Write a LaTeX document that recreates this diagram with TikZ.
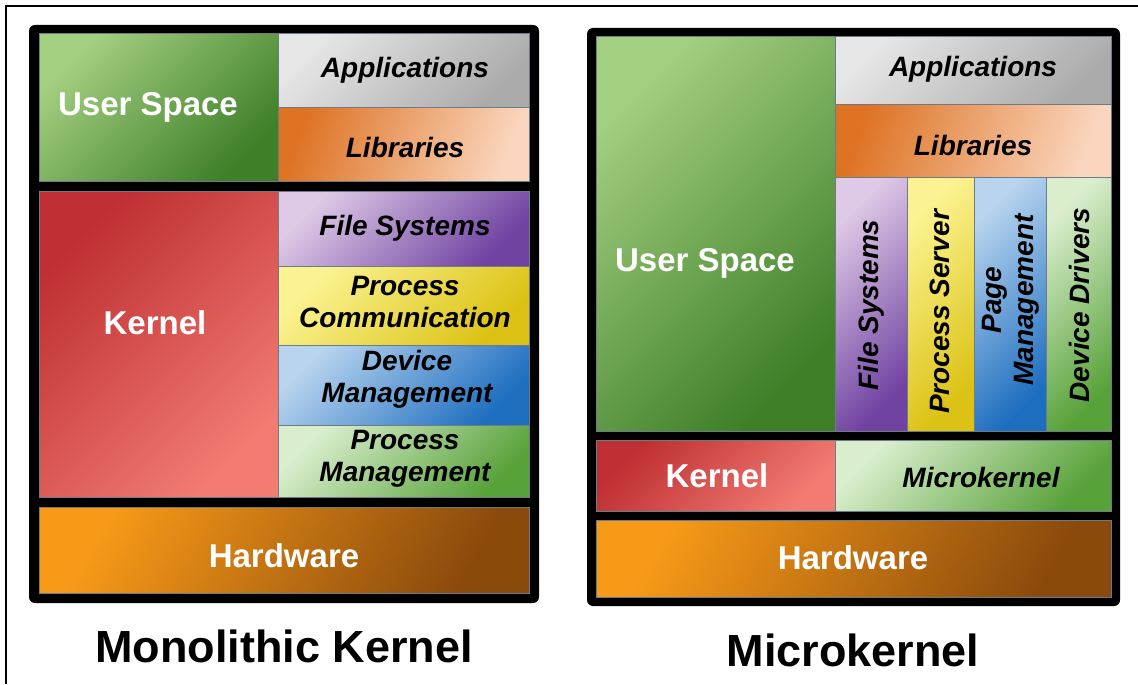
\documentclass[tikz,border=0pt]{standalone}
\usepackage{fontspec}
\setmainfont{Liberation Sans}
\definecolor{sepc}{HTML}{6E7A86}
\definecolor{usA}{HTML}{A3CF80}\definecolor{usB}{HTML}{3E7F28}
\definecolor{apA}{HTML}{E6E6E6}\definecolor{apB}{HTML}{ABABAB}
\definecolor{liA}{HTML}{DE7324}\definecolor{liB}{HTML}{FAD6BE}
\definecolor{keA}{HTML}{BE2E32}\definecolor{keB}{HTML}{F27C72}
\definecolor{fsA}{HTML}{DECAE6}\definecolor{fsB}{HTML}{7042A2}
\definecolor{pcA}{HTML}{FBF392}\definecolor{pcB}{HTML}{DCC214}
\definecolor{dmA}{HTML}{B8D4EE}\definecolor{dmB}{HTML}{1E6EC0}
\definecolor{pmA}{HTML}{DAEECE}\definecolor{pmB}{HTML}{58A23A}
\definecolor{hwA}{HTML}{F89A18}\definecolor{hwB}{HTML}{8A4A0C}
\begin{document}
\begin{tikzpicture}[x=0.5pt,y=-0.5pt,
  cellb/.style={draw=sepc, line width=0.5pt},
  grad/.style n args={3}{cellb, top color=#1, bottom color=#2, shading angle=#3},
  wlab/.style={text=white, font=\fontsize{16.5}{19}\selectfont\bfseries, align=center, inner sep=0pt},
  blab/.style={text=black, font=\fontsize{14}{16}\selectfont\bfseries\itshape, align=center, inner sep=0pt},
  ttl/.style={text=black, font=\fontsize{22.5}{26}\selectfont\bfseries, inner sep=0pt},
  framebox/.style={fill=black, rounded corners=3pt}]
\useasboundingbox (0,0) rectangle (1138,684);
\fill[white] (0,0) rectangle (1138,684);
% outer frame (cropped)
\draw[line width=1pt] (6,684) -- (6,6) -- (1138,6);

%% ---------- Monolithic kernel ----------
\path[framebox] (29,25) rectangle (539,603);
\path[grad={usA}{usB}{45}] (39,34) rectangle (278,182);
\path[grad={apA}{apB}{45}] (278,34) rectangle (529,108);
\path[grad={liA}{liB}{70}] (278,108) rectangle (529,182);
\path[grad={keA}{keB}{45}] (39,192) rectangle (278,497);
\path[grad={fsA}{fsB}{45}] (278,192) rectangle (529,266);
\path[grad={pcA}{pcB}{45}] (278,266) rectangle (529,345);
\path[grad={dmA}{dmB}{45}] (278,345) rectangle (529,425);
\path[grad={pmA}{pmB}{45}] (278,425) rectangle (529,497);
\path[grad={hwA}{hwB}{60}] (39,507) rectangle (529,593);

\node[wlab] (mus) at (148,107) {User Space};
\node[blab] (mapp) at (405,70) {Applications};
\node[blab] (mlib) at (405,147) {Libraries};
\node[wlab] (mker) at (155,323) {Kernel};
\node[blab] (mfs) at (405,228) {File Systems};
\node[blab] (mpc) at (405,302) {Process\\Communication};
\node[blab] (mdm) at (407,379) {Device\\Management};
\node[blab] (mpm) at (405,459) {Process\\Management};
\node[wlab] (mhw) at (284,556) {Hardware};
\node[ttl] (mtitle) at (284,646) {Monolithic Kernel};

%% ---------- Microkernel ----------
\path[framebox] (587,28) rectangle (1120,606);
\path[grad={usA}{usB}{45}] (596,37) rectangle (835,431);
\path[grad={apA}{apB}{45}] (835,37) rectangle (1111,105);
\path[grad={liA}{liB}{70}] (835,105) rectangle (1111,178);
\path[grad={fsA}{fsB}{45}] (835,178) rectangle (907,431);
\path[grad={pcA}{pcB}{45}] (907,178) rectangle (974,431);
\path[grad={dmA}{dmB}{45}] (974,178) rectangle (1046,431);
\path[grad={pmA}{pmB}{45}] (1046,178) rectangle (1111,431);
\path[grad={keA}{keB}{45}] (596,440) rectangle (835,511);
\path[grad={pmA}{pmB}{45}] (835,440) rectangle (1111,511);
\path[grad={hwA}{hwB}{60}] (596,520) rectangle (1111,597);

\node[wlab] (kus) at (705,263) {User Space};
\node[blab] (kapp) at (973,69) {Applications};
\node[blab] (klib) at (973,145) {Libraries};
\node[blab, rotate=90] (kfs) at (871,305) {File Systems};
\node[blab, rotate=90] (kps) at (940,312) {Process Server};
\node[blab, rotate=90] (kpg) at (1011,300) {Page\\Management};
\node[blab, rotate=90] (kdd) at (1079,305) {Device Drivers};
\node[wlab] (kker) at (717,476) {Kernel};
\node[blab] (kmk) at (981,477) {Microkernel};
\node[wlab] (khw) at (853,558) {Hardware};
\node[ttl] (ktitle) at (853,650) {Microkernel};
\end{tikzpicture}
\end{document}
